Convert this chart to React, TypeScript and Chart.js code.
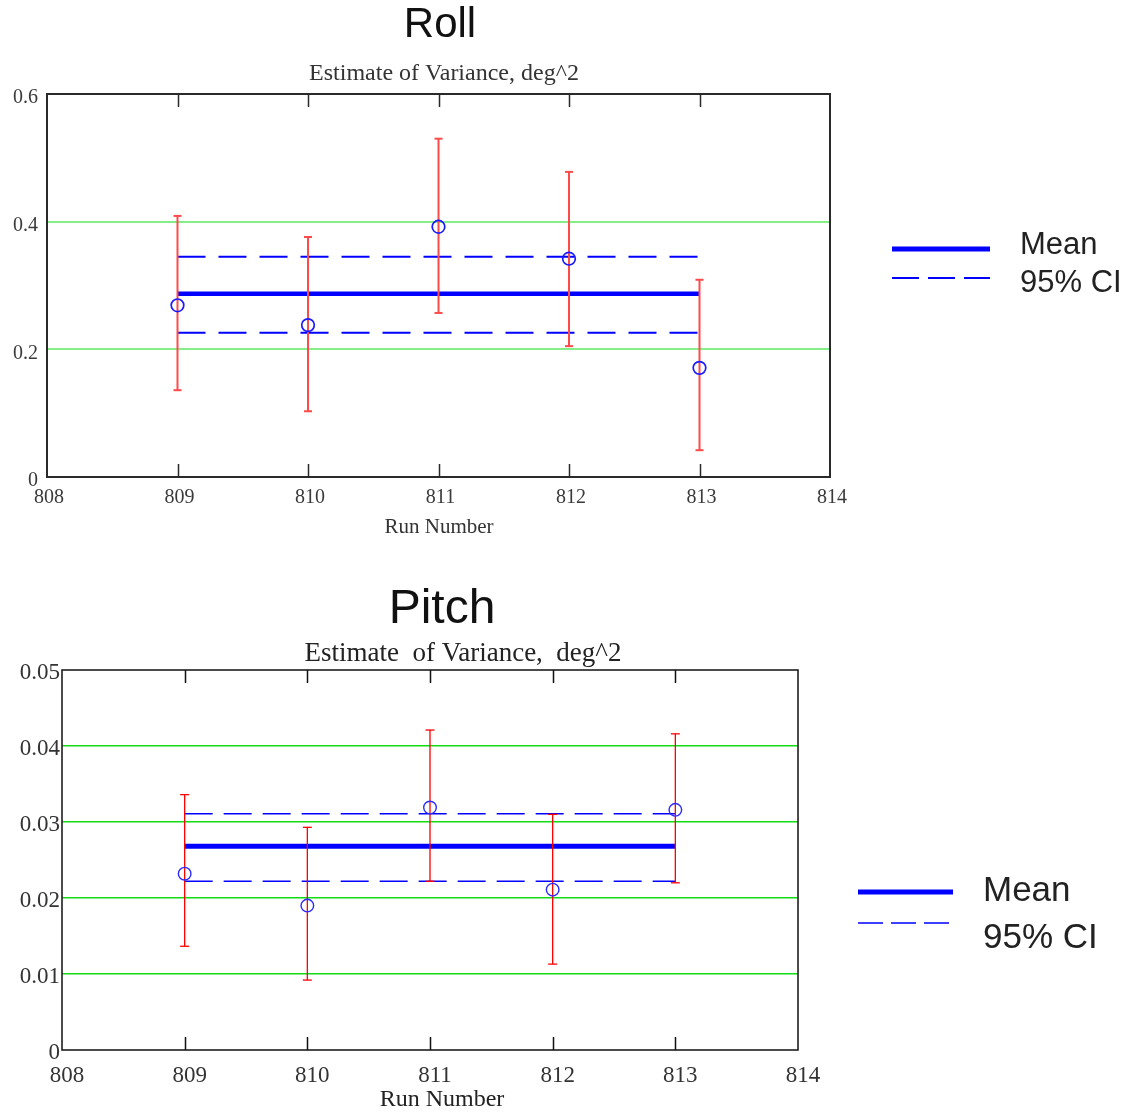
import React, { useEffect, useRef } from "react";
import { Chart, registerables } from "chart.js";

Chart.register(...registerables);

// ---------- data ----------
const runs = [809, 810, 811, 812, 813];
const xTickLabels = ["808", "809", "810", "811", "812", "813", "814"];

const rollEstimate = [0.269, 0.238, 0.392, 0.342, 0.171];
const rollUpper = [0.409, 0.376, 0.53, 0.478, 0.309];
const rollLower = [0.136, 0.103, 0.257, 0.205, 0.042];
const rollMean = 0.287;
const rollCI = [0.226, 0.345];
const rollYTickLabels = ["0", "0.2", "0.4", "0.6"];

const pitchEstimate = [0.0232, 0.019, 0.0319, 0.0211, 0.0316];
const pitchUpper = [0.0336, 0.0293, 0.0421, 0.031, 0.0416];
const pitchLower = [0.01365, 0.0092, 0.0222, 0.0113, 0.022];
const pitchMean = 0.0268;
const pitchCI = [0.0222, 0.0311];
const pitchYTickLabels = ["0", "0.01", "0.02", "0.03", "0.04", "0.05"];

const SERIF = "'Liberation Serif', 'Times New Roman', serif";
const SANS = "'Liberation Sans', Arial, sans-serif";

type TextItem = { text: string; x: number; y: number; size: number; family: string; color: string; align: CanvasTextAlign };

type Spec = {
  width: number;
  height: number;
  area: { left: number; right: number; top: number; bottom: number };
  yMax: number;
  yStep: number;
  yTickLabels: string[];
  estimate: number[];
  upper: number[];
  lower: number[];
  mean: number;
  ci: number[];
  style: any;
  texts: TextItem[];
  legend: { x1: number; x2: number; yMean: number; yCI: number; meanWidth: number; ciWidth: number; ciDash: number[] };
};

const rollSpec: Spec = {
  width: 1130,
  height: 560,
  area: { left: 47, right: 830, top: 94, bottom: 477 },
  yMax: 0.6,
  yStep: 0.2,
  yTickLabels: rollYTickLabels,
  estimate: rollEstimate,
  upper: rollUpper,
  lower: rollLower,
  mean: rollMean,
  ci: rollCI,
  style: {
    gridColor: "#86ee86",
    gridWidth: 2,
    errColor: "#ff4a4a",
    errWidth: 2,
    capHalf: 4,
    pointColor: "#1a1aff",
    pointRadius: 6.3,
    pointWidth: 1.7,
    lineColor: "#0000ff",
    meanWidth: 4.5,
    ciWidth: 2,
    ciDash: [28, 13],
    frameColor: "#2a2a2a",
    frameWidth: 2,
    tickLen: 13,
    tickColor: "#3a3a3a",
    tickSize: 20,
    xTickPad: 9,
    yTickPad: 9,
    labelOffset: 2,
    yLabelOffset: 4,
  },
  texts: [
    { text: "Roll", x: 440, y: 25, size: 42, family: SANS, color: "#111111", align: "center" },
    { text: "Estimate of Variance, deg^2", x: 444, y: 74, size: 24, family: SERIF, color: "#333333", align: "center" },
    { text: "Run Number", x: 439, y: 527, size: 21, family: SERIF, color: "#333333", align: "center" },
    { text: "Mean", x: 1020, y: 245, size: 31, family: SANS, color: "#222222", align: "left" },
    { text: "95% CI", x: 1020, y: 283, size: 31, family: SANS, color: "#222222", align: "left" },
  ],
  legend: { x1: 892, x2: 990, yMean: 249, yCI: 278, meanWidth: 5, ciWidth: 2, ciDash: [27, 9] },
};

const pitchSpec: Spec = {
  width: 1130,
  height: 554,
  area: { left: 62, right: 798, top: 110, bottom: 490 },
  yMax: 0.05,
  yStep: 0.01,
  yTickLabels: pitchYTickLabels,
  estimate: pitchEstimate,
  upper: pitchUpper,
  lower: pitchLower,
  mean: pitchMean,
  ci: pitchCI,
  style: {
    gridColor: "#11dd11",
    gridWidth: 1.5,
    errColor: "#ff0000",
    errWidth: 1.3,
    capHalf: 4.5,
    pointColor: "#2a2aff",
    pointRadius: 6.3,
    pointWidth: 1.4,
    lineColor: "#0000ff",
    meanWidth: 5,
    ciWidth: 1.5,
    ciDash: [28, 11],
    frameColor: "#111111",
    frameWidth: 1.5,
    tickLen: 13,
    tickColor: "#333333",
    tickSize: 23,
    xTickPad: 12,
    yTickPad: 2,
    labelOffset: 5,
    yLabelOffset: 3,
  },
  texts: [
    { text: "Pitch", x: 442, y: 50, size: 48, family: SANS, color: "#111111", align: "center" },
    { text: "Estimate  of Variance,  deg^2", x: 463, y: 94, size: 27, family: SERIF, color: "#222222", align: "center" },
    { text: "Run Number", x: 442, y: 540, size: 24, family: SERIF, color: "#222222", align: "center" },
    { text: "Mean", x: 983, y: 331, size: 35, family: SANS, color: "#222222", align: "left" },
    { text: "95% CI", x: 983, y: 378, size: 35, family: SANS, color: "#222222", align: "left" },
  ],
  legend: { x1: 858, x2: 953, yMean: 332, yCI: 363, meanWidth: 5, ciWidth: 1.5, ciDash: [25, 8] },
};

function makeDecor(s: Spec) {
  return {
    id: "decor",
    afterDraw(chart: any) {
      const { ctx, chartArea: a } = chart;
      const x = chart.scales.x;
      const st = s.style;
      ctx.save();
      // frame
      ctx.strokeStyle = st.frameColor;
      ctx.lineWidth = st.frameWidth;
      ctx.setLineDash([]);
      ctx.strokeRect(a.left, a.top, a.right - a.left, a.bottom - a.top);
      // inward ticks at runs
      ctx.beginPath();
      runs.forEach((r) => {
        const px = Math.round(x.getPixelForValue(r)) + 0.5;
        ctx.moveTo(px, a.top);
        ctx.lineTo(px, a.top + st.tickLen);
        ctx.moveTo(px, a.bottom - st.tickLen);
        ctx.lineTo(px, a.bottom);
      });
      ctx.lineWidth = 1.5;
      ctx.stroke();
      // texts
      s.texts.forEach((t) => {
        ctx.font = `${t.size}px ${t.family}`;
        ctx.fillStyle = t.color;
        ctx.textAlign = t.align;
        ctx.textBaseline = "middle";
        ctx.fillText(t.text, t.x, t.y);
      });
      // legend swatches
      const L = s.legend;
      ctx.strokeStyle = st.lineColor;
      ctx.lineWidth = L.meanWidth;
      ctx.beginPath();
      ctx.moveTo(L.x1, L.yMean);
      ctx.lineTo(L.x2, L.yMean);
      ctx.stroke();
      ctx.lineWidth = L.ciWidth;
      ctx.setLineDash(L.ciDash);
      ctx.beginPath();
      ctx.moveTo(L.x1, L.yCI);
      ctx.lineTo(L.x2, L.yCI);
      ctx.stroke();
      ctx.restore();
    },
  };
}

function buildConfig(s: Spec): any {
  const st = s.style;
  const errData: any[] = [];
  runs.forEach((r, i) => {
    errData.push({ x: r, y: s.lower[i] }, { x: r, y: s.upper[i] }, { x: r + 0.5, y: null });
  });
  const first = runs[0];
  const last = runs[runs.length - 1];
  const flat = (v: number) => [
    { x: first, y: v },
    { x: last, y: v },
  ];
  return {
    type: "line",
    data: {
      datasets: [
        {
          label: "Estimate",
          data: runs.map((r, i) => ({ x: r, y: s.estimate[i] })),
          showLine: false,
          pointStyle: "circle",
          pointRadius: st.pointRadius,
          pointBackgroundColor: "rgba(0,0,0,0)",
          pointBorderColor: st.pointColor,
          pointBorderWidth: st.pointWidth,
        },
        {
          label: "Error",
          data: errData,
          borderColor: st.errColor,
          borderWidth: st.errWidth,
          pointStyle: "line",
          pointRadius: st.capHalf,
          pointBorderColor: st.errColor,
          pointBorderWidth: st.errWidth,
          spanGaps: false,
        },
        {
          label: "Mean",
          data: flat(s.mean),
          borderColor: st.lineColor,
          borderWidth: st.meanWidth,
          pointRadius: 0,
        },
        {
          label: "95% CI",
          data: flat(s.ci[0]),
          borderColor: st.lineColor,
          borderWidth: st.ciWidth,
          borderDash: st.ciDash,
          pointRadius: 0,
        },
        {
          label: "95% CI upper",
          data: flat(s.ci[1]),
          borderColor: st.lineColor,
          borderWidth: st.ciWidth,
          borderDash: st.ciDash,
          pointRadius: 0,
        },
      ],
    },
    options: {
      responsive: false,
      animation: false,
      events: [],
      layout: { padding: { left: 0, top: s.area.top, right: s.width - s.area.right, bottom: 0 } },
      plugins: { legend: { display: false }, tooltip: { enabled: false }, title: { display: false } },
      scales: {
        x: {
          type: "linear",
          min: 808,
          max: 814,
          border: { display: false },
          grid: { display: false, drawTicks: false },
          ticks: {
            stepSize: 1,
            autoSkip: false,
            maxRotation: 0,
            callback: (_v: any, i: number) => xTickLabels[i],
            font: { family: SERIF, size: st.tickSize },
            color: st.tickColor,
            padding: st.xTickPad,
            labelOffset: st.labelOffset,
          },
          afterFit: (sc: any) => {
            sc.height = s.height - s.area.bottom;
          },
        },
        y: {
          type: "linear",
          min: 0,
          max: s.yMax,
          border: { display: false },
          grid: {
            drawTicks: false,
            lineWidth: st.gridWidth,
            color: (c: any) => {
              const v = c.tick ? c.tick.value : 0;
              return v <= 1e-9 || v >= s.yMax - 1e-9 ? "rgba(0,0,0,0)" : st.gridColor;
            },
          },
          ticks: {
            stepSize: s.yStep,
            callback: (_v: any, i: number) => s.yTickLabels[i],
            font: { family: SERIF, size: st.tickSize },
            color: st.tickColor,
            padding: st.yTickPad,
            labelOffset: st.yLabelOffset,
          },
          afterFit: (sc: any) => {
            sc.width = s.area.left;
          },
        },
      },
    },
    plugins: [makeDecor(s)],
  };
}

function VarianceChart({ spec, top }: { spec: Spec; top: number }) {
  const ref = useRef<HTMLCanvasElement | null>(null);
  useEffect(() => {
    if (!ref.current) return;
    const chart = new Chart(ref.current, buildConfig(spec));
    return () => chart.destroy();
  }, [spec]);
  return (
    <canvas
      ref={ref}
      width={spec.width}
      height={spec.height}
      style={{ position: "absolute", left: 0, top, width: spec.width, height: spec.height, display: "block" }}
    />
  );
}

export default function App() {
  return (
    <div style={{ position: "absolute", left: 0, top: 0, width: 1130, height: 1114, background: "#ffffff" }}>
      <VarianceChart spec={rollSpec} top={0} />
      <VarianceChart spec={pitchSpec} top={560} />
    </div>
  );
}
